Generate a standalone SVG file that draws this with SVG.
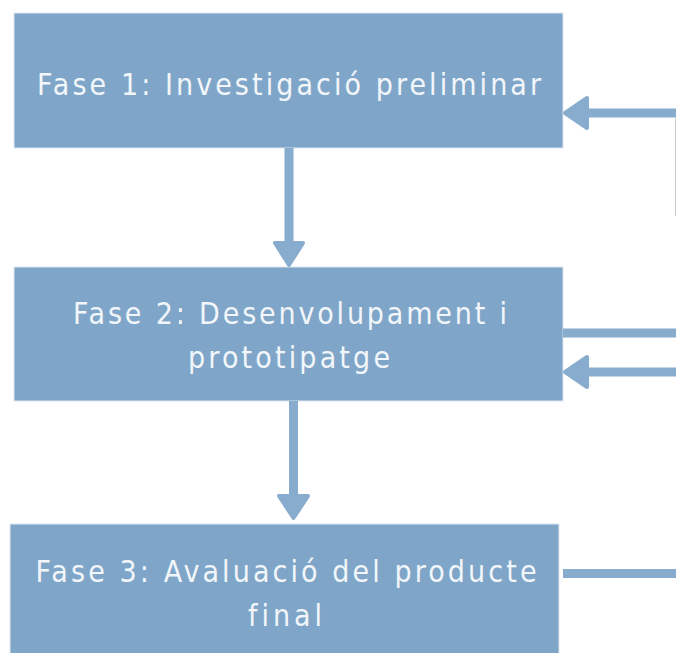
<svg xmlns="http://www.w3.org/2000/svg" width="676" height="653" viewBox="0 0 676 653">
<defs>
<style>
.box{fill:#7fa6c8;stroke:#dfe7ef;stroke-width:1}
.lbl{fill:#f2f6fa;font-family:"DejaVu Sans","Liberation Sans",sans-serif;font-stretch:condensed;font-size:30px;text-anchor:middle;font-variant-ligatures:none}
.ln{stroke:#88acce;stroke-width:9;fill:none}
.hd{fill:#88acce;stroke:#88acce;stroke-width:4;stroke-linejoin:round}
</style>
</defs>
<rect width="676" height="653" fill="#ffffff"/>
<g id="node1">
<rect class="box" x="14" y="13" width="549" height="135"/>
<text class="lbl" x="289" y="94.5" textLength="504" lengthAdjust="spacing">Fase 1: Investigació preliminar</text>
</g>
<g id="node2">
<rect class="box" x="14" y="267" width="549" height="134"/>
<text class="lbl" x="290" y="324" textLength="434" lengthAdjust="spacing">Fase 2: Desenvolupament i</text>
<text class="lbl" x="289" y="368" textLength="202" lengthAdjust="spacing">prototipatge</text>
</g>
<g id="node3">
<rect class="box" x="10" y="524" width="549" height="135"/>
<text class="lbl" x="286" y="582" textLength="501" lengthAdjust="spacing">Fase 3: Avaluació del producte</text>
<text class="lbl" x="285" y="626" textLength="74" lengthAdjust="spacing">final</text>
</g>
<g id="connectors">
<line class="ln" x1="289" y1="148" x2="289" y2="244"/>
<polygon class="hd" points="275,243 303,243 289,265"/>
<line class="ln" x1="293.5" y1="401" x2="293.5" y2="497"/>
<polygon class="hd" points="279,496 308,496 293.5,518"/>
<line class="ln" x1="586" y1="113" x2="676" y2="113"/>
<polygon class="hd" points="587,98 587,128 565,113"/>
<line x1="675.5" y1="118" x2="675.5" y2="216" stroke="#c8ccd0" stroke-width="1"/>
<line class="ln" x1="563" y1="333" x2="676" y2="333"/>
<line class="ln" x1="586" y1="372" x2="676" y2="372"/>
<polygon class="hd" points="587,357 587,387 565,372"/>
<line class="ln" x1="563" y1="573.5" x2="676" y2="573.5"/>
</g>
</svg>
